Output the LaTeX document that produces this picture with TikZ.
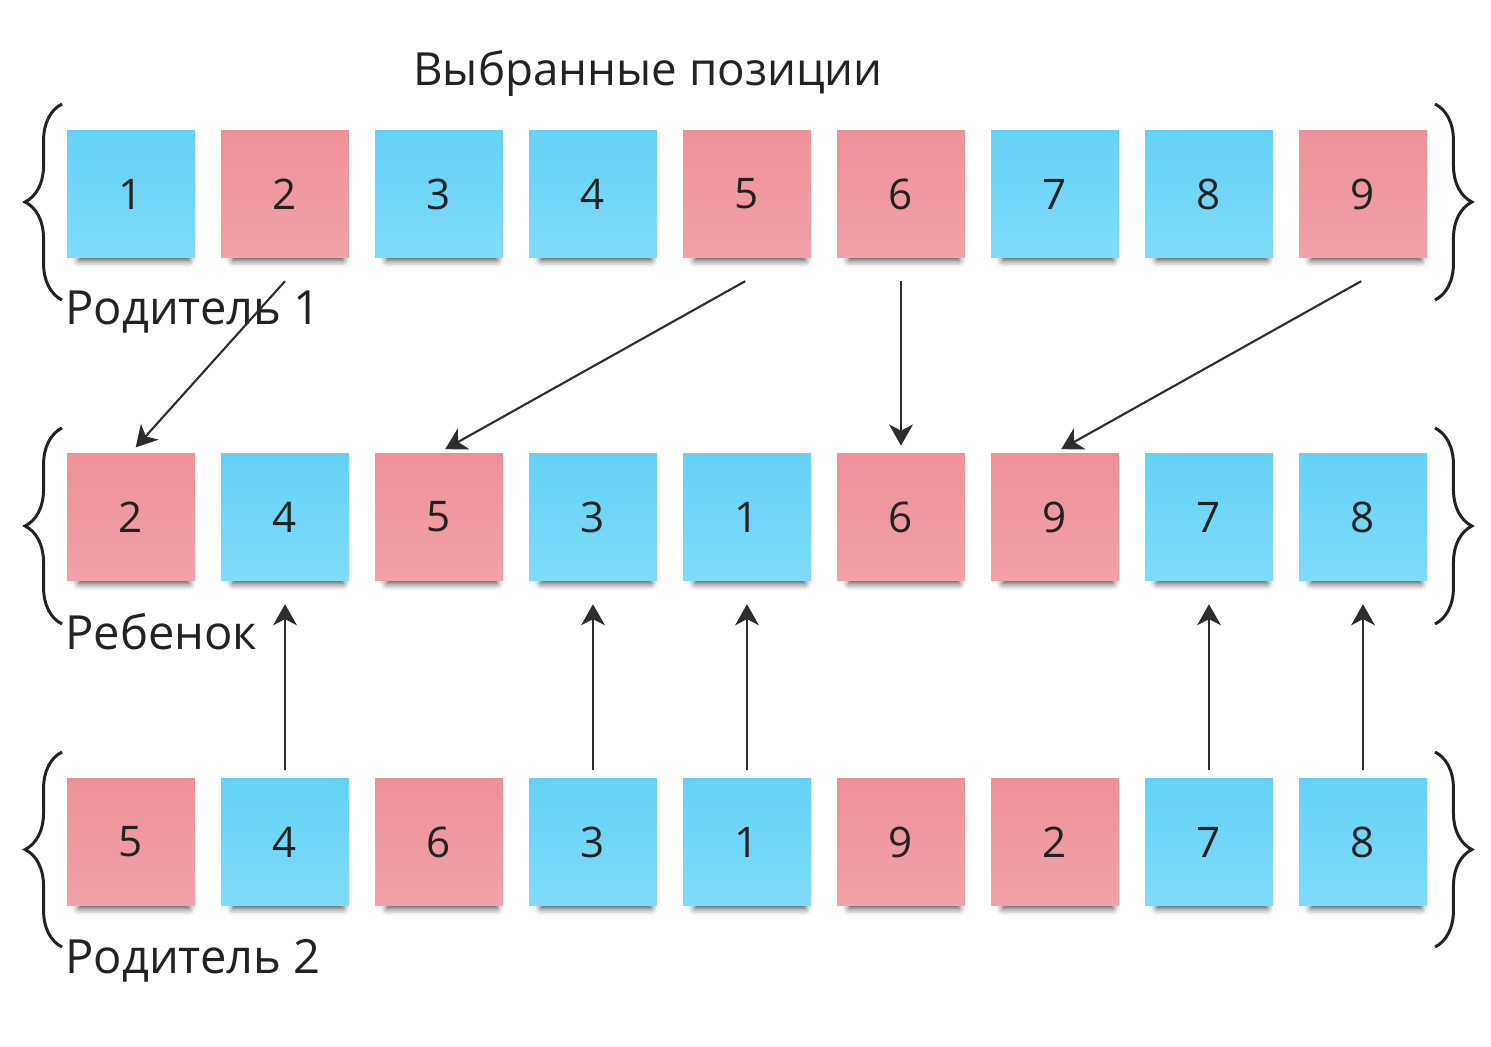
\documentclass[tikz,border=0pt]{standalone}
\usepackage{fontspec}
\setmainfont{Open Sans}
\usepackage{xcolor}
\usetikzlibrary{arrows.meta, positioning, decorations.pathreplacing, shadows.blur}

\definecolor{inkgray}{HTML}{222222}
\definecolor{cyantop}{HTML}{64D2F7}
\definecolor{cyanbot}{HTML}{80DBF9}
\definecolor{pinktop}{HTML}{EE9099}
\definecolor{pinkbot}{HTML}{F1A2AA}

\begin{document}
\begin{tikzpicture}[
    x=0.02cm, y=-0.02cm,
    note/.style={rectangle, minimum size=2.56cm, inner sep=0pt, text=inkgray, font=\fontsize{24}{28}\selectfont,
        blur shadow={shadow xshift=2pt, shadow yshift=-7.5pt, shadow scale=0.86, shadow opacity=75, shadow blur radius=4.5pt}},
    bnote/.style={note, top color=cyantop, bottom color=cyanbot},
    pnote/.style={note, top color=pinktop, bottom color=pinkbot},
    lbl/.style={text=inkgray, inner sep=0pt, font=\fontsize{26.8}{32}\selectfont},
    brc/.style={decorate, decoration={brace, amplitude=21pt}, line width=1.7pt, draw=inkgray},
    arr/.style={-{Stealth[length=12pt, width=13.5pt, inset=3.5pt]}, line width=1.2pt, draw=inkgray!95},
]
\useasboundingbox (0,0) rectangle (1491,1047);

% title
\node[lbl, font=\fontsize{26}{30}\selectfont] (title) at (648,73) {Выбранные позиции};

% parent 1
\foreach \v/\s [count=\i] in {1/bnote,2/pnote,3/bnote,4/bnote,5/pnote,6/pnote,7/bnote,8/bnote,9/pnote}
    \node[\s] (top\i) at ({131+154*(\i-1)},194) {\v};
% child
\foreach \v/\s [count=\i] in {2/pnote,4/bnote,5/pnote,3/bnote,1/bnote,6/pnote,9/pnote,7/bnote,8/bnote}
    \node[\s] (kid\i) at ({131+154*(\i-1)},517) {\v};
% parent 2
\foreach \v/\s [count=\i] in {5/pnote,4/bnote,6/pnote,3/bnote,1/bnote,9/pnote,2/pnote,7/bnote,8/bnote}
    \node[\s] (bot\i) at ({131+154*(\i-1)},842) {\v};

% braces
\draw[brc] (62,300) -- (62,104);
\draw[brc] (1435,104) -- (1435,300);
\draw[brc] (62,624) -- (62,428);
\draw[brc] (1435,428) -- (1435,624);
\draw[brc] (62,947) -- (62,752);
\draw[brc] (1435,752) -- (1435,947);

% labels
\node[lbl, anchor=base west] (lab1) at (65,325) {Родитель 1};
\node[lbl, anchor=base west] (lab2) at (65,649) {Ребенок};
\node[lbl, anchor=base west] (lab3) at (65,973) {Родитель 2};

% from parent 1
\draw[arr, shorten >=4pt] ([yshift=-13pt]top2.south) -- (kid1.north);
\draw[arr, shorten >=4pt] ([xshift=-1pt, yshift=-13pt]top5.south) -- (kid3.north);
\draw[arr, shorten >=4pt] ([yshift=-13pt]top6.south) -- (kid6.north);
\draw[arr, shorten >=4pt] ([xshift=-1pt, yshift=-13pt]top9.south) -- (kid7.north);

% from parent 2
\foreach \k in {2,4,5,8,9}
    \draw[arr, shorten <=4.5pt, shorten >=13pt] (bot\k.north) -- (kid\k.south);

\end{tikzpicture}
\end{document}
